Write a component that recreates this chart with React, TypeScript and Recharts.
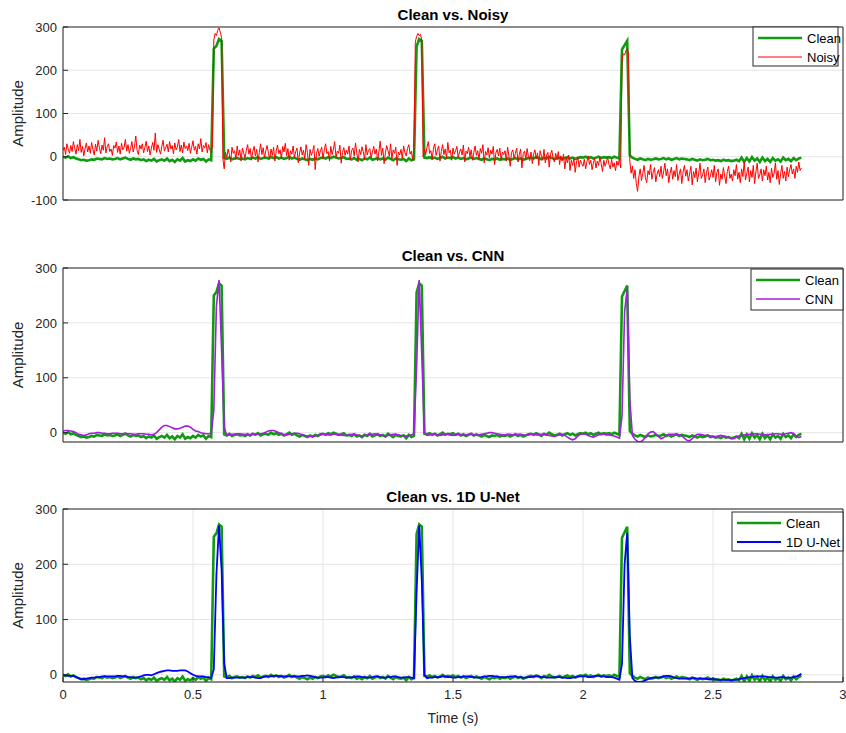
import { LineChart, Line, XAxis, YAxis, CartesianGrid } from 'recharts'

const STEP = 0.01 // sampling interval of the clean / denoised signals, s
const NOISY_STEP = 0.005 // the noisy recording is read at a finer step
const X_TICKS = [0, 0.5, 1, 1.5, 2, 2.5, 3]

// clean signal, one row per 0.1 s
const CLEAN = [
  0, -2, 1, -3, -1, -4, -6, -8, -7, -9,
  -8, -6, -7, -4, -5, -6, -3, -5, -4, -6,
  -5, -3, -6, -4, -2, -5, -7, -4, -6, -5,
  -8, -6, -10, -7, -9, -5, -11, -8, -6, -9,
  -4, -10, -7, -12, -6, -9, -3, -11, -8, -10,
  -6, -9, -4, -7, -5, -11, -6, -8, 250, 256,
  272, 268, -3, -5, -2, -6, -4, -3, -5, -4,
  -6, -3, -5, -2, -4, -1, -5, -3, -2, -4,
  0, -3, -1, -4, -2, -5, -3, 0, -4, -2,
  -5, -7, -4, -6, -8, -5, -7, -4, -6, -3,
  -2, -4, -1, -3, 0, -2, -4, -3, -1, -5,
  -4, -6, -3, -7, -5, -8, -4, -6, -2, -7,
  -5, -3, -6, -4, -7, -2, -5, -8, -4, -6,
  -7, -5, -10, -4, -8, -6, 255, 272, 268, -2,
  -3, -1, -4, -2, -5, -3, 0, -4, -2, -3,
  -1, -4, -2, -5, -3, -6, -4, -2, -5, -3,
  -5, -7, -4, -6, -8, -5, -6, -4, -7, -5,
  -6, -4, -7, -5, -3, -6, -4, -7, -5, -3,
  -2, -4, -1, -3, -6, -2, -4, 0, -3, -5,
  -4, -2, -5, -3, -1, -4, -2, -5, -3, -1,
  -2, 0, -3, -1, -4, -2, 0, -3, -1, -2,
  -1, -3, 0, -2, -4, 248, 258, 268, 3, -2,
  -5, -7, -4, -6, -8, -5, -7, -6, -4, -6,
  -5, -3, -6, -4, -7, -5, -3, -6, -4, -5,
  -6, -8, -5, -7, -9, -6, -8, -7, -5, -8,
  -7, -9, -8, -10, -7, -9, -8, -10, -9, -7,
  -10, -2, -12, -3, -11, -1, -9, -4, -12, -2,
  -10, -5, -12, -3, -9, -6, -11, -2, -8, -5,
  -10, -3, -8, -4, -2,
]

// noisy signal, one row per 0.1 s (20 samples)
const NOISY = [
  15, 22, 5, 30, 18, 8, 26, 12, 35, 20, 6, 28, 14, 40, 10, 24, 2, 19, 32, 11,
  25, 8, 33, 17, 4, 29, 13, 38, 21, 7, 27, 15, 44, 9, 23, 30, 12, 18, 3, 26,
  20, 34, 10, 25, 6, 31, 16, 22, 40, 13, 28, 8, 19, 35, 11, 24, 48, 14, 5, 27,
  18, 30, 9, 22, 36, 12, 25, 4, 20, 33, 15, 55, 10, 28, 17, 6, 24, 38, 13, 21,
  29, 11, 35, 18, 26, 7, 32, 16, 23, 40, 12, 27, 9, 34, 19, 25, 14, 31, 8, 22,
  37, 15, 24, 6, 30, 18, 42, 11, 26, 20, 33, 9, 28, 16, 10, 25, 270, 285, 280, 292,
  298, 288, 275, -5, -28, 10, -2, 18, 5, -12, 22, 8, 14, -6, 25, 3, 16, -10, 20, 9,
  -4, 15, 28, 6, 19, -8, 12, 24, 2, 17, -12, 10, 30, 5, 21, -3, 14, 26, 8, -6,
  18, 3, 22, -10, 13, 27, 7, 16, -4, 24, 11, 31, 2, 19, -8, 14, 6, 25, -2, 12,
  20, -14, 9, 23, 4, 15, -6, 28, 10, -20, 17, 3, 12, 26, -30, 8, 19, 1, 14, 22,
  -5, 16, 30, 7, 12, -10, 24, 5, 18, 35, -2, 13, 8, 27, -15, 10, 21, 3, 15, 6,
  25, -8, 14, 20, 2, 32, 9, -12, 17, 5, 23, 11, -6, 28, 4, 15, 19, -3, 10, 24,
  6, 18, -10, 12, 36, 3, 20, -16, 9, 26, 14, 1, 30, -5, 16, 8, 22, -20, 11, 4,
  17, -4, 25, 10, 2, 19, 28, 6, 13, -8, 21, 265, 278, 285, 280, 283, 270, 0, 18, 5,
  22, 35, 8, 14, -6, 20, 30, 3, 16, 25, -10, 12, 28, 5, 18, -4, 33, 9, 15, -8,
  20, 6, 14, 24, -2, 11, 18, 4, 27, -12, 13, 7, 22, 0, 16, -8, 10, 25, 3, 14,
  -6, 19, 8, 28, -14, 12, 4, 21, -3, 15, 6, 24, -18, 9, 17, 2, 20, -8, 11, 5,
  14, -10, 22, 3, -22, 10, 16, -4, 8, 20, -12, 5, 18, -26, 7, 13, -6, 19, 1, -9,
  11, -16, 6, 16, -5, 9, -20, 14, 2, -8, 17, -14, 4, 10, -24, 6, 15, -4, -12, 8,
  -6, 12, -18, 2, -10, 6, -28, -2, -14, 4, -32, -8, -20, -4, -36, -12, 0, -24, -8, -16,
  -22, -6, -28, -12, 2, -18, -8, -30, -14, -4, -26, -10, -20, 0, -16, -34, -8, -22, -12, -2,
  -18, -28, -6, -24, -14, -32, -10, -20, -4, -26, 225, 238, 235, 245, 250, 240, -10, -38, -22, -50,
  -30, -62, -80, -45, -28, -55, -38, -20, -48, -60, -32, -42, -18, -52, -36, -25, -58, -40, -30, -46,
  -22, -50, -35, -15, -44, -28, -60, -38, -24, -52, -32, -46, -18, -55, -40, -28, -62, -35, -20, -45,
  -30, -56, -40, -22, -65, -34, -48, -26, -58, -38, -15, -50, -42, -28, -60, -36, -24, -54, -44, -30,
  -48, -20, -58, -36, -28, -66, -40, -52, -25, -45, -62, -34, -22, -50, -40, -56, -30, -44, -18, -52,
  -36, -60, -28, -46, -12, -54, -38, -24, -58, -32, -48, -20, -62, -35, -15, -50, -42, -28, -56, -30,
  -44, -22, -54, -36, -60, -26, -48, -38, -14, -52, -32, -64, -40, -20, -50, -34, -56, -24, -46, -30,
  -18, -40, -28, -50, -22, -36, -12, -32, -26,
]

const CNN = [
  3, 4, 4, 3, 2, 0, -3, -4, -5, -4,
  -2, -1, -1, 0, 0, -1, -1, -2, -2, -1,
  -1, -1, -2, -2, -1, -2, -2, -3, -3, -2,
  -2, -2, -3, -3, -4, -3, 0, 5, 10, 13,
  13, 11, 9, 7, 7, 8, 10, 12, 12, 10,
  6, 3, 2, 0, -1, -2, -2, -1, 40, 230,
  278, 150, 10, -5, -4, -3, -3, -2, -2, -3,
  -3, -4, -4, -3, -3, -2, -2, -1, 1, 3,
  4, 4, 2, 0, -2, -4, -4, -3, -2, -1,
  -1, -2, -4, -5, -6, -7, -7, -6, -5, -4,
  -3, -3, -4, -4, -3, -3, -4, -4, -5, -5,
  -4, -3, -3, -4, -5, -6, -5, -4, -3, -3,
  -2, -3, -4, -5, -6, -5, -4, -3, -3, -4,
  -5, -6, -6, -5, -4, -2, 120, 278, 140, 0,
  -5, -4, -3, -3, -4, -5, -4, -3, -3, -4,
  -5, -4, -3, -4, -5, -4, -3, -3, -4, -5,
  -4, -3, -2, -1, 0, 0, -1, -2, -3, -4,
  -4, -3, -3, -4, -4, -3, -3, -4, -5, -4,
  -3, -3, -4, -4, -3, -3, -4, -5, -6, -7,
  -5, -4, -3, -5, -8, -11, -13, -11, -6, -3,
  -2, -3, -5, -7, -8, -6, -4, -3, -3, -4,
  -4, -5, -6, -8, -10, 30, 220, 262, 60, -5,
  -12, -16, -17, -14, -8, -2, 1, 2, -2, -7,
  -11, -9, -5, -3, -3, -3, -3, -4, -6, -10,
  -14, -15, -11, -6, -3, -3, -4, -5, -5, -6,
  -7, -7, -6, -5, -6, -7, -9, -11, -11, -8,
  -6, -5, -4, -4, -3, -3, -2, -2, -3, -3,
  -4, -4, -3, -3, -2, -2, -3, -3, -2, -1,
  0, -2, -6, -9, -7,
]

const UNET = [
  -1, -1, -2, -2, -2, -4, -6, -8, -8, -7,
  -6, -5, -5, -4, -4, -3, -3, -3, -3, -3,
  -3, -2, -2, -3, -3, -4, -4, -5, -5, -4,
  -3, -1, 0, 0, -1, 1, 3, 5, 6, 7,
  8, 8, 7, 7, 7, 8, 8, 8, 6, 3,
  0, -2, -3, -3, -3, -4, -4, -6, 10, 180,
  270, 190, 20, -6, -6, -5, -5, -5, -5, -5,
  -5, -4, -4, -4, -5, -6, -6, -4, -3, -3,
  -3, -2, -2, -2, -3, -3, -3, -3, -3, -3,
  -3, -3, -2, -2, -1, -2, -3, -4, -5, -5,
  -5, -4, -4, -5, -6, -5, -4, -4, -4, -5,
  -5, -4, -4, -3, -3, -4, -4, -5, -5, -4,
  -3, -3, -4, -5, -5, -4, -4, -3, -3, -4,
  -5, -5, -4, -4, -5, -6, 150, 270, 170, 0,
  -6, -5, -5, -4, -4, -4, -3, -3, -4, -4,
  -5, -5, -4, -4, -3, -3, -3, -4, -4, -5,
  -5, -4, -3, -3, -2, -2, -3, -3, -4, -4,
  -4, -4, -3, -3, -3, -4, -4, -5, -5, -4,
  -4, -3, -3, -3, -4, -4, -5, -5, -5, -4,
  -4, -4, -5, -5, -6, -6, -5, -4, -3, -3,
  -3, -3, -4, -4, -3, -2, -2, -3, -3, -4,
  -4, -4, -5, -7, -9, 20, 200, 257, 70, -6,
  -11, -13, -13, -12, -10, -8, -6, -5, -5, -5,
  -4, -3, -2, -2, -3, -5, -6, -7, -7, -7,
  -7, -7, -6, -6, -7, -7, -7, -7, -8, -8,
  -8, -8, -9, -9, -9, -9, -9, -10, -9, -9,
  -8, -7, -6, -5, -4, -4, -3, -3, -3, -3,
  -3, -4, -4, -4, -5, -5, -4, -4, -5, -5,
  -5, -4, -3, -1, 2,
]

const rows = CLEAN.map((v, i) => ({
  t: Math.round(i * STEP * 1000) / 1000,
  clean: v,
  cnn: CNN[i],
  unet: UNET[i],
}))

const noisyRows = NOISY.map((v, i) => ({
  t: Math.round(i * NOISY_STEP * 1000) / 1000,
  noisy: v,
}))

const FONT = '"Liberation Sans", Arial, Helvetica, sans-serif'
const AXIS = '#262626'
const GREEN = '#109a10'
const TICK = { fill: AXIS, fontSize: 13, fontFamily: FONT }

type Series = { key: string; name: string; color: string; width: number; data?: object[] }

const CLEAN_S: Series = { key: 'clean', name: 'Clean', color: GREEN, width: 2.6 }
const NOISY_S: Series = { key: 'noisy', name: 'Noisy', color: '#ff0000', width: 1, data: noisyRows }
const CNN_S: Series = { key: 'cnn', name: 'CNN', color: '#a21ee0', width: 1.6 }
const UNET_S: Series = { key: 'unet', name: '1D U-Net', color: '#0000ff', width: 1.8 }

function YLabel({ cy }: { cy: number }) {
  return (
    <text x={17} y={cy} transform={`rotate(-90, 17, ${cy})`} textAnchor="middle"
      dominantBaseline="central" fill={AXIS} fontSize={15} fontFamily={FONT}>
      Amplitude
    </text>
  )
}

function XLabel() {
  return (
    <text x={453} y={238} textAnchor="middle" dominantBaseline="central"
      fill={AXIS} fontSize={14} fontFamily={FONT}>
      Time (s)
    </text>
  )
}

interface SubplotProps {
  top: number
  height: number
  marginTop: number
  xHeight: number
  yDomain: [number, number]
  yTicks: number[]
  series: Series[]
  bottomLabels?: boolean
}

function Subplot({ top, height, marginTop, xHeight, yDomain, yTicks, series, bottomLabels }: SubplotProps) {
  const plotH = height - marginTop - xHeight
  return (
    <div style={{ position: 'absolute', left: 0, top }}>
      <LineChart width={846} height={height} data={rows}
        margin={{ top: marginTop - 1, right: 2, bottom: 0, left: 0 }}>
        <CartesianGrid xAxisId="b" yAxisId="l" stroke="#e4e4e4" />
        <XAxis xAxisId="b" dataKey="t" type="number" domain={[0, 3]} ticks={X_TICKS}
          allowDataOverflow height={xHeight} stroke={AXIS} tickSize={-5} tickMargin={13}
          tick={bottomLabels ? TICK : false}
          label={bottomLabels ? <XLabel /> : undefined} />
        <XAxis xAxisId="t" orientation="top" dataKey="t" type="number" domain={[0, 3]}
          ticks={X_TICKS} allowDataOverflow height={1} stroke={AXIS} tickSize={-5} tick={false} />
        <YAxis yAxisId="l" type="number" domain={yDomain} ticks={yTicks} allowDataOverflow
          width={63} stroke={AXIS} tickSize={-5} tickMargin={11} tick={TICK}
          label={<YLabel cy={marginTop + plotH / 2} />} />
        <YAxis yAxisId="r" orientation="right" type="number" domain={yDomain} ticks={yTicks}
          allowDataOverflow width={1} stroke={AXIS} tickSize={-5} tick={false} />
        {series.map(s => (
          <Line key={s.key} xAxisId="b" yAxisId="l" type="linear" data={s.data} dataKey={s.key} name={s.name}
            stroke={s.color} strokeWidth={s.width} dot={false} isAnimationActive={false} />
        ))}
      </LineChart>
    </div>
  )
}

interface LegendProps {
  x: number
  y: number
  w: number
  h: number
  lineX: number
  items: Series[]
}

function LegendBox({ x, y, w, h, lineX, items }: LegendProps) {
  return (
    <g>
      <rect x={x} y={y} width={w} height={h} fill="#fff" stroke={AXIS} strokeWidth={1} />
      {items.map((s, i) => {
        const ly = y + 11 + i * 19
        return (
          <g key={s.key}>
            <line x1={lineX} x2={lineX + 44} y1={ly} y2={ly} stroke={s.color} strokeWidth={s.width} />
            <text x={lineX + 49} y={ly + 5} fontSize={13} fontFamily={FONT} fill="#000">{s.name}</text>
          </g>
        )
      })}
    </g>
  )
}

function Title({ y, text }: { y: number; text: string }) {
  return (
    <text x={453} y={y} textAnchor="middle" fontSize={15} fontWeight="bold" fontFamily={FONT} fill="#000">
      {text}
    </text>
  )
}

export default function App() {
  return (
    <div style={{ position: 'absolute', left: 0, top: 0, width: 846, height: 733, background: '#fff', fontFamily: FONT }}>
      <Subplot top={0} height={215} marginTop={27} xHeight={15} yDomain={[-100, 300]}
        yTicks={[-100, 0, 100, 200, 300]} series={[CLEAN_S, NOISY_S]} />
      <Subplot top={240} height={217} marginTop={28} xHeight={15} yDomain={[-17, 300]}
        yTicks={[0, 100, 200, 300]} series={[CLEAN_S, CNN_S]} />
      <Subplot top={480} height={253} marginTop={29} xHeight={51} yDomain={[-13, 300]}
        yTicks={[0, 100, 200, 300]} series={[CLEAN_S, UNET_S]} bottomLabels />
      <svg width={846} height={733} style={{ position: 'absolute', left: 0, top: 0, pointerEvents: 'none' }}>
        <Title y={20} text="Clean vs. Noisy" />
        <Title y={261} text="Clean vs. CNN" />
        <Title y={502} text="Clean vs. 1D U-Net" />
        <LegendBox x={753} y={27} w={85} h={39} lineX={758} items={[CLEAN_S, NOISY_S]} />
        <LegendBox x={751} y={269} w={92} h={41} lineX={756} items={[CLEAN_S, CNN_S]} />
        <LegendBox x={732} y={512} w={111} h={39} lineX={737} items={[CLEAN_S, UNET_S]} />
      </svg>
    </div>
  )
}
